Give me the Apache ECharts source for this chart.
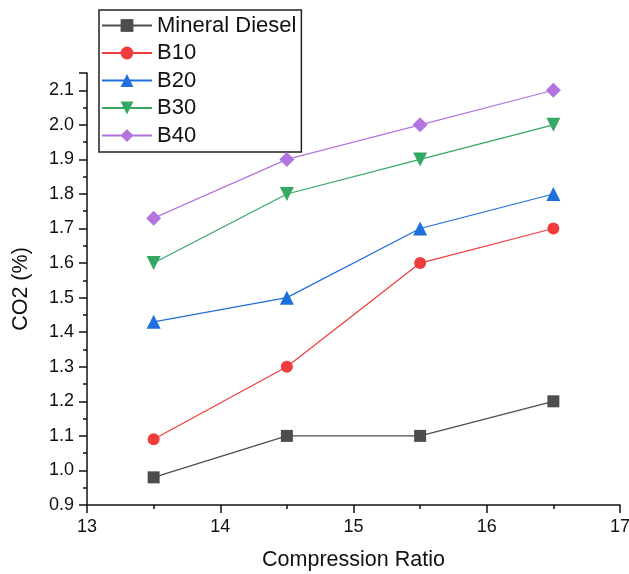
<!DOCTYPE html>
<html>
<head>
<meta charset="utf-8">
<script src="https://cdn.jsdelivr.net/npm/echarts@6/dist/echarts.min.js"></script>
<style>
  html, body { margin: 0; padding: 0; background: #fff; }
  #chart { width: 629px; height: 574px; }
</style>
</head>
<body>
<div id="chart"></div>
<script>
// Compression ratios tested
const compressionRatio = [13.5, 14.5, 15.5, 16.5];

// CO2 emissions (%) per fuel blend
const mineralDiesel = [0.98, 1.10, 1.10, 1.20];
const b10 = [1.09, 1.30, 1.60, 1.70];
const b20 = [1.43, 1.50, 1.70, 1.80];
const b30 = [1.60, 1.80, 1.90, 2.00];
const b40 = [1.73, 1.90, 2.00, 2.10];

const seriesNames = ['Mineral Diesel', 'B10', 'B20', 'B30', 'B40'];
const seriesValues = [mineralDiesel, b10, b20, b30, b40];
const seriesColors = ['#4d4d4d', '#f03c3c', '#1f6fdd', '#34a865', '#b275e0'];
const seriesSymbols = ['rect', 'circle', 'triangle', 'triangle', 'diamond'];
const symbolRotations = [0, 0, 0, 180, 0];
const symbolSizes = [12, 12, 14, 14, 15];

const font = "'Liberation Sans', Arial, sans-serif";

const chart = echarts.init(document.getElementById('chart'), null, { renderer: 'canvas' });

const series = seriesNames.map((name, i) => ({
  name: name,
  type: 'line',
  data: compressionRatio.map((x, j) => [x, seriesValues[i][j]]),
  symbol: seriesSymbols[i],
  symbolRotate: symbolRotations[i],
  symbolSize: symbolSizes[i],
  lineStyle: { color: seriesColors[i], width: 1.2 },
  itemStyle: { color: seriesColors[i] },
  z: 10 - i
}));

chart.setOption({
  animation: false,
  backgroundColor: '#fff',
  grid: { left: 87, right: 9, top: 73, bottom: 69, containLabel: false, outerBoundsMode: 'none' },
  legend: {
    orient: 'vertical',
    left: 99,
    top: 10,
    data: seriesNames,
    itemWidth: 50,
    itemHeight: 16,
    itemGap: 4.5,
    padding: [4, 5, 5, 2],
    borderColor: '#222',
    borderWidth: 1.5,
    textStyle: { fontFamily: font, fontSize: 22, color: '#111', lineHeight: 23 }
  },
  xAxis: {
    type: 'value',
    min: 13,
    max: 17,
    interval: 1,
    name: 'Compression Ratio',
    nameLocation: 'middle',
    nameGap: 44,
    nameTextStyle: { fontFamily: font, fontSize: 21.5, color: '#111' },
    axisLine: { show: true, onZero: false, lineStyle: { color: '#111', width: 1.5 } },
    axisTick: { show: true, inside: false, length: 8, lineStyle: { color: '#111', width: 1.5 } },
    minorTick: { show: true, splitNumber: 2, length: 4, lineStyle: { color: '#111', width: 1.5 } },
    axisLabel: { fontFamily: font, fontSize: 18, color: '#111', margin: 13 },
    splitLine: { show: false }
  },
  yAxis: {
    type: 'value',
    min: 0.9,
    max: 2.15,
    interval: 0.1,
    name: 'CO2 (%)',
    nameLocation: 'middle',
    nameGap: 55,
    nameTextStyle: { fontFamily: font, fontSize: 21.5, color: '#111' },
    axisLine: { show: true, onZero: false, lineStyle: { color: '#111', width: 1.5 } },
    axisTick: { show: true, inside: false, length: 8, lineStyle: { color: '#111', width: 1.5 } },
    minorTick: { show: true, splitNumber: 2, length: 4, lineStyle: { color: '#111', width: 1.5 } },
    axisLabel: {
      fontFamily: font, fontSize: 18, color: '#111', margin: 13,
      formatter: v => (Math.abs(v * 10 - Math.round(v * 10)) < 1e-6 ? v.toFixed(1) : '')
    },
    splitLine: { show: false }
  },
  series: series
});
</script>
</body>
</html>
